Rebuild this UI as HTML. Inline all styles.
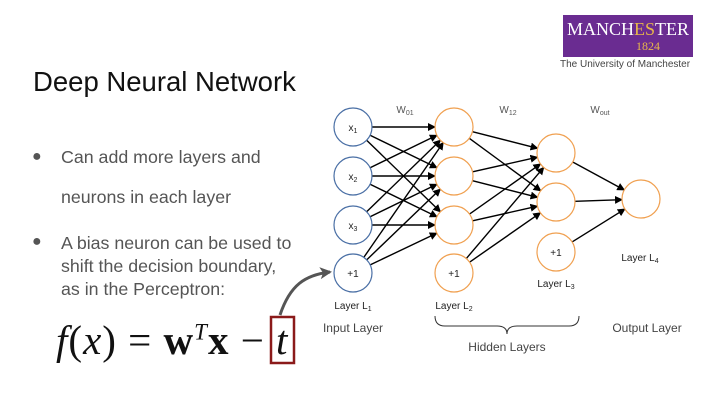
<!DOCTYPE html>
<html><head><meta charset="utf-8"><style>
body{margin:0;width:720px;height:405px;background:#fff;overflow:hidden;font-family:"Liberation Sans",sans-serif;position:relative}
.t{position:absolute;white-space:nowrap}
</style></head><body>
<div class="t" style="left:33px;top:66px;font-size:27.5px;color:#111">Deep Neural Network</div>
<div class="t" style="left:32px;top:148px;font-size:16px;color:#555">●</div>
<div class="t" style="left:61px;top:147px;font-size:17.8px;color:#555">Can add more layers and</div>
<div class="t" style="left:61px;top:187px;font-size:17.8px;color:#555">neurons in each layer</div>
<div class="t" style="left:32px;top:233px;font-size:16px;color:#555">●</div>
<div class="t" style="left:61px;top:232px;font-size:17.8px;color:#555;line-height:23px">A bias neuron can be used to<br>shift the decision boundary,<br>as in the Perceptron:</div>
<div class="t" style="left:56px;top:316px;font-size:41px;font-family:'Liberation Serif',serif;color:#111;letter-spacing:1px"><i>f</i>(<i>x</i>) = <b>w</b><sup style="font-size:23px"><i>T</i></sup><b>x</b> −</div>
<div class="t" style="left:276px;top:316px;font-size:41px;font-family:'Liberation Serif',serif;color:#111"><i>t</i></div>
<div style="position:absolute;left:563px;top:15px;width:130px;height:42px;background:#6a2c91"></div>
<div class="t" style="left:567px;top:19px;font-size:18px;font-family:'Liberation Serif',serif;color:#fff">MANCH<span style="color:#e8b84a">ES</span>TER</div>
<div class="t" style="left:636px;top:39px;font-size:12px;font-family:'Liberation Serif',serif;color:#e8b84a">1824</div>
<div class="t" style="left:560px;top:59px;font-size:10px;color:#444">The University of Manchester</div>
<svg width="720" height="405" style="position:absolute;left:0;top:0">
<defs><marker id="a" markerWidth="8" markerHeight="8" refX="7" refY="4" orient="auto" markerUnits="userSpaceOnUse"><path d="M0,0L8,4L0,8z" fill="#000"/></marker>
<marker id="g" markerWidth="12" markerHeight="12" refX="10" refY="6" orient="auto" markerUnits="userSpaceOnUse"><path d="M0,0L12,6L0,12L3,6z" fill="#555"/></marker></defs>
<g stroke="#000" stroke-width="1.4" marker-end="url(#a)" id="e"></g>
<rect x="271" y="317" width="23" height="46" fill="none" stroke="#8b1a1a" stroke-width="2.5"/>
<path d="M280,315 C290,285 305,275 330,272" fill="none" stroke="#555" stroke-width="3" marker-end="url(#g)"/>
<g fill="#fff" stroke-width="1.2">
<circle cx="353" cy="127" r="19" stroke="#4a6fa5"/><circle cx="353" cy="176" r="19" stroke="#4a6fa5"/><circle cx="353" cy="225" r="19" stroke="#4a6fa5"/><circle cx="353" cy="273" r="19" stroke="#4a6fa5"/>
<circle cx="454" cy="127" r="19" stroke="#f0a050"/><circle cx="454" cy="176" r="19" stroke="#f0a050"/><circle cx="454" cy="225" r="19" stroke="#f0a050"/><circle cx="454" cy="273" r="19" stroke="#f0a050"/>
<circle cx="556" cy="153" r="19" stroke="#f0a050"/><circle cx="556" cy="202" r="19" stroke="#f0a050"/><circle cx="556" cy="252" r="19" stroke="#f0a050"/>
<circle cx="641" cy="199" r="19" stroke="#f0a050"/>
</g>
<g font-family="Liberation Sans" font-size="10" fill="#222" text-anchor="middle">
<text x="353" y="131">x<tspan font-size="7" dy="2">1</tspan></text>
<text x="353" y="180">x<tspan font-size="7" dy="2">2</tspan></text>
<text x="353" y="229">x<tspan font-size="7" dy="2">3</tspan></text>
<text x="353" y="277">+1</text><text x="454" y="277">+1</text><text x="556" y="256">+1</text>
<text x="405" y="113" fill="#555">W<tspan font-size="7" dy="2">01</tspan></text>
<text x="508" y="113" fill="#555">W<tspan font-size="7" dy="2">12</tspan></text>
<text x="600" y="113" fill="#555">W<tspan font-size="7" dy="2">out</tspan></text>
<text x="353" y="309">Layer L<tspan font-size="7" dy="2">1</tspan></text>
<text x="454" y="309">Layer L<tspan font-size="7" dy="2">2</tspan></text>
<text x="556" y="287">Layer L<tspan font-size="7" dy="2">3</tspan></text>
<text x="640" y="261">Layer L<tspan font-size="7" dy="2">4</tspan></text>
<text x="353" y="332" font-size="12" fill="#444">Input Layer</text>
<text x="647" y="332" font-size="12" fill="#444">Output Layer</text>
<text x="507" y="351" font-size="12" fill="#444">Hidden Layers</text>
</g>
<path d="M435,316 Q435,326 445,326 L497,326 Q507,326 507,334 Q507,326 517,326 L569,326 Q579,326 579,316" fill="none" stroke="#333" stroke-width="1"/>
</svg>
<script>
var g=document.getElementById('e'),r=19,s='';
function L(x1,y1,x2,y2){var dx=x2-x1,dy=y2-y1,d=Math.hypot(dx,dy);s+='<line x1="'+(x1+dx/d*r)+'" y1="'+(y1+dy/d*r)+'" x2="'+(x2-dx/d*r)+'" y2="'+(y2-dy/d*r)+'"/>';}
[127,176,225,273].forEach(a=>[127,176,225].forEach(b=>L(353,a,454,b)));
[127,176,225,273].forEach(a=>[153,202].forEach(b=>L(454,a,556,b)));
[153,202,252].forEach(a=>L(556,a,641,199));
g.innerHTML=s;
</script>
</body></html>
